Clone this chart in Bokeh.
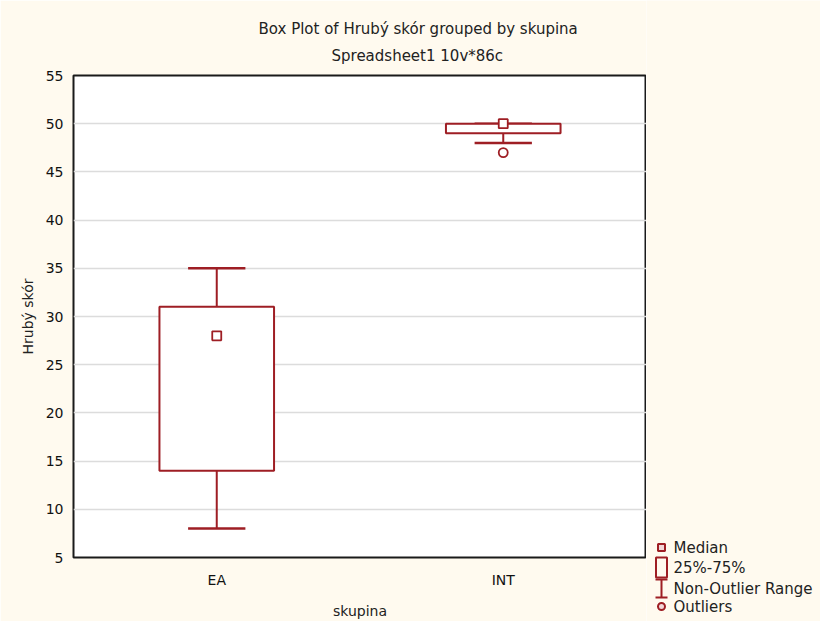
from bokeh.plotting import figure
from bokeh.layouts import row
from bokeh.models import (ColumnDataSource, FactorRange, Title, FixedTicker, Range1d)
from bokeh.core.properties import value
from bokeh.transform import dodge
from bokeh.embed import file_html
from bokeh.resources import INLINE

# ---- data ----
groups = ["EA", "INT"]
q1 = [14, 49]
q3 = [31, 50]
medians = [28, 50]
whisk_low = [8, 48]
whisk_high = [35, 50]
outlier_groups = ["INT"]
outlier_values = [47]
y_ticks = [5, 10, 15, 20, 25, 30, 35, 40, 45, 50, 55]

title_line1 = "Box Plot of Hrubý skór grouped by  skupina"
title_line2 = "Spreadsheet1 10v*86c"
x_label = "skupina"
y_label = "Hrubý skór"
legend_labels = ["Median", "25%-75%", "Non-Outlier Range", "Outliers"]

RED = "#9E1E24"
FONT = "DejaVu Sans"
BG = "#FFFAEF"
TXT = "#222222"

src = ColumnDataSource(dict(g=groups, q1=q1, q3=q3, med=medians,
                            lo=whisk_low, hi=whisk_high))
out_src = ColumnDataSource(dict(g=outlier_groups, v=outlier_values))

# ---------------- main plot ----------------
p = figure(width=646, height=621, x_range=FactorRange(*groups), y_range=(5, 55),
           output_backend="svg", toolbar_location=None,
           min_border_left=73, min_border_right=0,
           min_border_top=75, min_border_bottom=62)
p.frame_align = False

p.background_fill_color = "white"
p.border_fill_color = BG
p.outline_line_color = "#1A1A1A"
p.outline_line_width = 2

p.xgrid.visible = False
p.ygrid.grid_line_color = "#DCDCDC"
p.ygrid.grid_line_width = 1.5

p.yaxis.ticker = FixedTicker(ticks=y_ticks)
for ax in (p.xaxis, p.yaxis):
    ax.axis_line_color = None
    ax.major_tick_line_color = None
    ax.minor_tick_line_color = None
    ax.major_tick_out = 0
    ax.major_tick_in = 0
    ax.major_label_text_font = FONT
    ax.major_label_text_font_size = "14px"
    ax.major_label_text_color = "#111111"
    ax.axis_label_text_font = FONT
    ax.axis_label_text_font_size = "14px"
    ax.axis_label_text_font_style = "normal"
    ax.axis_label_text_color = TXT
p.xaxis.axis_label = x_label
p.yaxis.axis_label = y_label
p.xaxis.major_label_standoff = 14
p.xaxis.axis_label_standoff = 12
p.yaxis.major_label_standoff = 10
p.yaxis.axis_label_standoff = 7

# titles (second line closest to the frame)
p.add_layout(Title(text=title_line2, align="left", offset=258, text_font=FONT,
                   text_font_size="15px", text_font_style="normal",
                   text_color=TXT, standoff=21), "above")
p.add_layout(Title(text=title_line1, align="left", offset=185, text_font=FONT,
                   text_font_size="15px", text_font_style="normal",
                   text_color=TXT, standoff=-6), "above")

# whiskers
p.segment(x0="g", y0="q3", x1="g", y1="hi", source=src, line_color=RED, line_width=2)
p.segment(x0="g", y0="q1", x1="g", y1="lo", source=src, line_color=RED, line_width=2)
p.segment(x0=dodge("g", -0.1, range=p.x_range), y0="hi",
          x1=dodge("g", 0.1, range=p.x_range), y1="hi",
          source=src, line_color=RED, line_width=2.5)
p.segment(x0=dodge("g", -0.1, range=p.x_range), y0="lo",
          x1=dodge("g", 0.1, range=p.x_range), y1="lo",
          source=src, line_color=RED, line_width=2.5)
# boxes
p.vbar(x="g", width=0.4, bottom="q1", top="q3", source=src,
       fill_color="white", line_color=RED, line_width=2)
# medians
p.scatter(x="g", y="med", source=src, marker="square", size=9,
          fill_color="white", line_color=RED, line_width=1.8)
# outliers
p.scatter(x="g", y="v", source=out_src, marker="circle", size=9,
          fill_color="white", line_color=RED, line_width=1.8)

# ---------------- legend panel (drawn in page-pixel coordinates) ----------------
lg = figure(width=174, height=621, x_range=Range1d(646, 820), y_range=Range1d(621, 0),
            output_backend="svg", toolbar_location=None,
            min_border_left=0, min_border_right=0, min_border_top=0, min_border_bottom=0)
lg.frame_align = False
lg.axis.visible = False
lg.grid.visible = False
lg.outline_line_color = None
lg.background_fill_color = BG
lg.border_fill_color = BG

key_x = 661
row_y = [547, 567, 588, 606]
KEY_FILL = "#F2D6D7"

# Median key
lg.scatter(x=[key_x], y=[row_y[0]], marker="square", size=7,
           fill_color=KEY_FILL, line_color=RED, line_width=2)
# 25%-75% key
lg.quad(left=[key_x - 5.5], right=[key_x + 5.5], top=[row_y[1] - 10], bottom=[row_y[1] + 10],
        fill_alpha=0, line_color=RED, line_width=2)
# Non-Outlier Range key (I shape)
lg.segment(x0=[key_x], y0=[row_y[2] - 9], x1=[key_x], y1=[row_y[2] + 9],
           line_color=RED, line_width=2)
lg.segment(x0=[key_x - 6, key_x - 6], y0=[row_y[2] - 9, row_y[2] + 9],
           x1=[key_x + 6, key_x + 6], y1=[row_y[2] - 9, row_y[2] + 9],
           line_color=RED, line_width=2)
# Outliers key
lg.scatter(x=[key_x], y=[row_y[3]], marker="circle", size=7,
           fill_color=KEY_FILL, line_color=RED, line_width=2)

lg.text(x=[key_x + 12] * 4, y=row_y, text=legend_labels,
        text_font=value(FONT), text_font_size="15px", text_color=TXT,
        text_align="left", text_baseline="middle")

layout = row(p, lg, spacing=0)
open("out.html", "w").write(file_html(layout, INLINE))
